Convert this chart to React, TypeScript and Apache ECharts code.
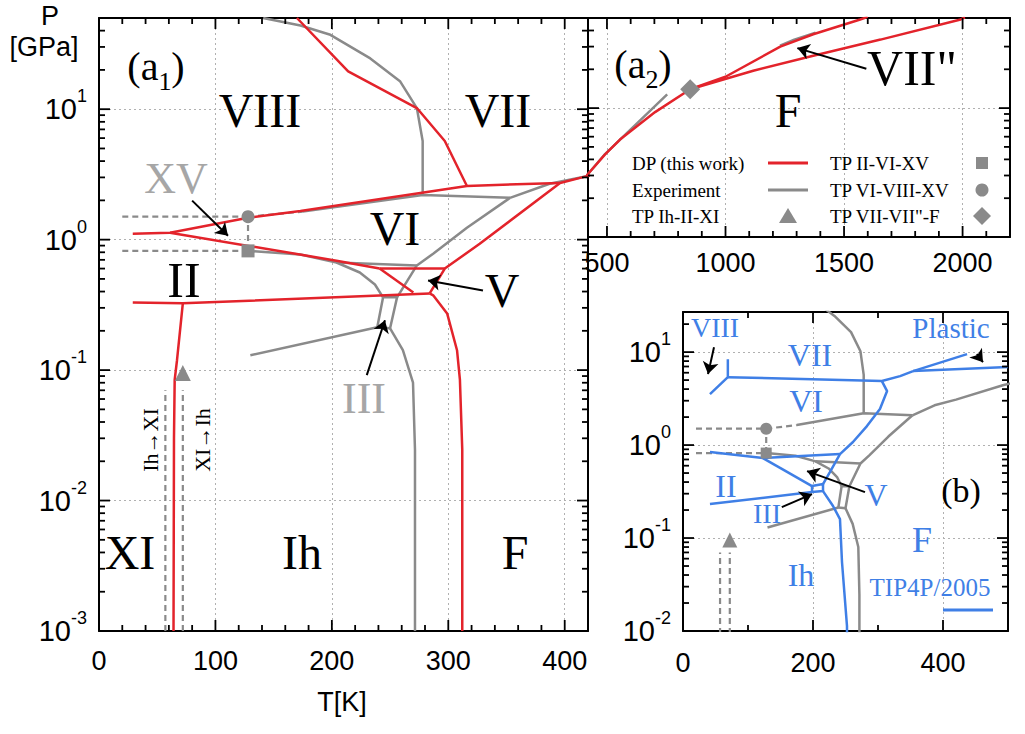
import React, { useEffect, useRef } from "react";
import * as echarts from "echarts";

// ---------------- axis ranges ----------------
const a1T = [0, 420];
const a1P = [0.001, 50];
const a2T = [420, 2200];
const a2P = [1, 50];
const bT = [0, 500];
const bP = [0.01, 27];

// ---------------- DP (this work) : red ----------------
const redVIIIvsVII = [[170, 50], [214, 19.5], [273, 10.2], [297, 5.7], [316, 2.58]];
const redVIupper = [[29, 1.11], [61, 1.13], [128, 1.47], [173, 1.66], [316, 2.58], [396, 2.72]];
const redIIvsVI = [[61, 1.13], [204, 0.69], [241, 0.6]];
const redVtop = [[241, 0.6], [297, 0.6]];
const redIIvsV = [[241, 0.6], [270, 0.394]];
const redIIvsIh = [[29, 0.33], [72, 0.325], [284, 0.387]];
const redIhvsXI = [[72, 0.325], [67, 0.119], [65, 0.084], [64.4, 0.03], [64, 0.001]];
const redIhvsF = [[284, 0.387], [287, 0.374], [299, 0.272], [307.5, 0.142], [310, 0.084], [312, 0.0245], [312, 0.001]];
const redMelt = [[284, 0.387], [297, 0.6], [327, 0.93], [396, 2.72], [420, 3.08], [492, 4.38], [555, 5.7], [703, 9.31], [851, 14]];
const redVIIppUpper = [[851, 14], [1000, 17.5], [1231, 30], [1370, 37.4], [1568, 48.7], [1600, 51]];
const redVIIppLower = [[851, 14], [1117, 19.5], [1370, 25.5], [1654, 34], [1992, 48.7], [2010, 50.5]];

// ---------------- Experiment : gray ----------------
const grayVIIIvsVII = [[141, 50], [173, 43.8], [198, 37.4], [233, 24.5], [258.5, 16.4], [273, 10.2], [278, 5.7], [278, 2.2]];
const grayVIupper = [[175, 1.64], [278, 2.2], [353, 2.09]];
const grayMeltVII = [[353, 2.09], [387, 2.68], [420, 3.08], [492, 4.4], [564, 5.9], [754, 12.8]];
const grayMeltVI = [[353, 2.09], [316, 1.235], [287, 0.78], [273, 0.634], [256, 0.361]];
const grayIIvsVI = [[128, 0.82], [173, 0.768], [204, 0.668], [273, 0.634]];
const grayIIvsIII = [[204, 0.668], [224, 0.56], [237, 0.453], [244, 0.361]];
const grayIIIbox = [[244, 0.361], [256, 0.361], [250, 0.209], [239, 0.213], [244, 0.361]];
const grayIhvsII = [[130, 0.13], [239, 0.213]];
const grayIhvsF = [[250, 0.209], [261, 0.142], [269.7, 0.08], [271.4, 0.0245], [271.4, 0.001]];
const grayVIIpp = [[1230, 30.5], [1290, 34], [1380, 38.5]];
const dashXVhigh = [[20, 1.5], [128, 1.5]];
const dashXVlow = [[20, 0.82], [128, 0.82]];
const dashXVvert = [[128, 0.82], [128, 1.5]];
const dashVIII = [[128, 1.5], [175, 1.64]];
const dashIhXI = [[57, 0.001], [57, 0.07]];
const dashXIIh = [[72, 0.001], [72, 0.07]];

// ---------------- TIP4P/2005 : blue ----------------
const blueVIII = [[41.5, 3.53], [69, 5.38], [69, 8.4]];
const blueVIvsVII = [[69, 5.38], [306, 4.88], [334, 5.52], [354, 6.25]];
const bluePlasticA = [[354, 6.25], [437, 9.5]];
const bluePlasticB = [[354, 6.25], [500, 6.9]];
const blueMelt = [[306, 4.88], [314, 3.81], [303, 2.44], [283, 1.6], [261.5, 1.08], [241.5, 0.8], [226, 0.513], [215.4, 0.381]];
const blueVbox = [[198.5, 0.362], [215.4, 0.381], [215.4, 0.32], [198.5, 0.312], [198.5, 0.362]];
const blueIIupper = [[41.5, 0.841], [123, 0.725], [241.5, 0.8]];
const blueIIvsVI = [[123, 0.725], [198.5, 0.362]];
const blueIIvsIh = [[41.5, 0.232], [198.5, 0.312]];
const blueIhvsF = [[215.4, 0.32], [230.8, 0.221], [241.5, 0.16], [244.6, 0.0552], [252.3, 0.0113], [252.5, 0.005]];

// ---------------- triple points ----------------
const tpIIVIXV = [[128, 0.82]];
const tpVIVIIIXV = [[128, 1.5]];
const tpIhIIXI = [[72, 0.095]];
const tpVIIVIIppF = [[851, 14]];

// ---------------- arrows ----------------
const arrowXV = [[80, 1.99], [110.8, 1.07]];
const arrowV = [[329.8, 0.408], [282.6, 0.486]];
const arrowIII = [[230, 0.0916], [245.6, 0.241]];
const arrowVIIpp = [[1594, 20.2], [1303, 29.2]];
const arrowBVIII = [[47.7, 11.3], [38.5, 5.8]];
const arrowBPlastic = [[452, 9.5], [461.5, 7.8]];
const arrowBV = [[280, 0.312], [190.8, 0.525]];
const arrowBIII = [[152, 0.215], [198.5, 0.297]];

// ---------------- tick steps ----------------
const a1Steps = [100, 20];
const a2Steps = [500, 100];
const bSteps = [200, 100];

const RED = "#e3232b";
const GRAY = "#8a8a8a";
const BLUE = "#3f7fe6";
const LIGHT = "#a6a6a6";
const SANS = "Liberation Sans, Arial, sans-serif";
const SERIF = "Liberation Serif, Times New Roman, serif";

const logFmt = (v: number) => {
  const l = Math.log10(v);
  const e = Math.round(l);
  return Math.abs(l - e) < 1e-6 ? `{b|10}{s|${e}}` : "";
};
const logRich = () => ({
  b: { fontSize: 29, fontFamily: SANS, color: "#000", lineHeight: 44, verticalAlign: "middle" },
  s: { fontSize: 18, fontFamily: SANS, color: "#000", lineHeight: 44, verticalAlign: "top" },
});

const axLine = () => ({ show: true, onZero: false, lineStyle: { color: "#000", width: 2 } });
const split = () => ({ show: true, lineStyle: { color: "#b0b0b0", type: [2, 3], width: 1 } });

function xAxis(gi: number, range: number[], step: number, useInterval: boolean, margin: number, top: boolean) {
  const ax: any = {
    type: "value",
    gridIndex: gi,
    position: top ? "top" : "bottom",
    min: range[0],
    max: range[1],
    axisLine: axLine(),
    axisTick: { show: false },
    splitLine: top ? { show: false } : split(),
    axisLabel: top
      ? { show: false }
      : {
          show: true,
          margin,
          fontSize: 27,
          fontFamily: SANS,
          color: "#000",
          formatter: (v: number) => (Math.abs(v % step) < 1e-9 ? String(v) : ""),
        },
  };
  if (useInterval) ax.interval = step;
  else ax.splitNumber = 4;
  return ax;
}

function yAxis(gi: number, range: number[], labels: boolean, right: boolean) {
  return {
    type: "log",
    logBase: 10,
    gridIndex: gi,
    position: right ? "right" : "left",
    min: range[0],
    max: range[1],
    axisLine: axLine(),
    axisTick: { show: false },
    splitLine: right ? { show: false } : split(),
    axisLabel: labels && !right ? { show: true, margin: 12, formatter: logFmt, rich: logRich() } : { show: false },
  };
}

// tick positions along the axes
function linTicks(range: number[], step: number) {
  const out: number[] = [];
  for (let v = Math.ceil(range[0] / step) * step; v <= range[1] + 1e-9; v += step) out.push(v);
  return out;
}
function logTicks(range: number[], major: boolean) {
  const out: number[] = [];
  for (let d = -4; d <= 2; d++) {
    const ms = major ? [1] : [2, 3, 4, 5, 6, 7, 8, 9];
    for (const m of ms) {
      const v = m * Math.pow(10, d);
      if (v >= range[0] * 0.9999 && v <= range[1] * 1.0001) out.push(v);
    }
  }
  return out;
}

// tick marks placed through the chart's own scales (convertToPixel)
function tickGraphics(chart: any, gi: number, tR: number[], pR: number[], steps: number[]) {
  const finder = { xAxisIndex: gi * 2, yAxisIndex: gi * 2 };
  const px = (t: number, p: number) => chart.convertToPixel(finder, [t, p]);
  const majX = linTicks(tR, steps[0]);
  const minX = linTicks(tR, steps[1]).filter((v) => majX.indexOf(v) < 0);
  const majY = logTicks(pR, true);
  const minY = logTicks(pR, false);
  const out: any[] = [];
  const seg = (x1: number, y1: number, x2: number, y2: number) =>
    out.push({ type: "line", z: 90, silent: true, shape: { x1, y1, x2, y2 }, style: { stroke: "#000", lineWidth: 1.8 } });
  const xs = (vals: number[], len: number) =>
    vals.forEach((t) => {
      const b = px(t, pR[0]);
      const tp = px(t, pR[1]);
      seg(b[0], b[1], b[0], b[1] - len);
      seg(tp[0], tp[1], tp[0], tp[1] + len);
    });
  const ys = (vals: number[], len: number) =>
    vals.forEach((p) => {
      const l = px(tR[0], p);
      const r = px(tR[1], p);
      seg(l[0], l[1], l[0] + len, l[1]);
      seg(r[0], r[1], r[0] - len, r[1]);
    });
  xs(majX, 11);
  xs(minX, 6);
  ys(majY, 11);
  ys(minY, 6);
  return out;
}

function line(data: number[][], color: string, gi: number, dashed = false, z = 3) {
  return {
    type: "line",
    xAxisIndex: gi * 2,
    yAxisIndex: gi * 2,
    data,
    symbol: "none",
    silent: true,
    clip: true,
    z,
    lineStyle: { color, width: dashed ? 2.2 : 2.5, type: dashed ? [6, 4] : "solid" },
  };
}

function marker(data: number[][], symbol: string, size: number, gi: number) {
  return {
    type: "scatter",
    xAxisIndex: gi * 2,
    yAxisIndex: gi * 2,
    data,
    symbol,
    symbolSize: size,
    silent: true,
    z: 6,
    itemStyle: { color: GRAY, opacity: 1 },
  };
}

function arrows(list: number[][][], gi: number) {
  return {
    type: "lines",
    coordinateSystem: "cartesian2d",
    xAxisIndex: gi * 2,
    yAxisIndex: gi * 2,
    symbol: ["none", "arrow"],
    symbolSize: 12,
    silent: true,
    z: 8,
    lineStyle: { color: "#000", width: 2, opacity: 1 },
    data: list.map((c) => ({ coords: c })),
  };
}

function txt(text: string, x: number, y: number, size: number, color = "#000", family = SERIF, extra: any = {}) {
  return {
    type: "text",
    x,
    y,
    z: 100,
    silent: true,
    ...extra,
    style: { text, fontSize: size, fontFamily: family, fill: color, align: "center", verticalAlign: "middle", ...(extra.style || {}) },
  };
}

export default function App() {
  const ref = useRef<HTMLDivElement>(null);
  useEffect(() => {
    if (!ref.current) return;
    const chart = echarts.init(ref.current, null, { renderer: "svg" });

    const grayLines = (gi: number) => [
      line(grayVIIIvsVII, GRAY, gi, false, 2),
      line(grayVIupper, GRAY, gi, false, 2),
      line(grayMeltVII, GRAY, gi, false, 2),
      line(grayMeltVI, GRAY, gi, false, 2),
      line(grayIIvsVI, GRAY, gi, false, 2),
      line(grayIIvsIII, GRAY, gi, false, 2),
      line(grayIIIbox, GRAY, gi, false, 2),
      line(grayIhvsII, GRAY, gi, false, 2),
      line(grayIhvsF, GRAY, gi, false, 2),
      line(dashXVhigh, GRAY, gi, true, 2),
      line(dashXVlow, GRAY, gi, true, 2),
      line(dashXVvert, GRAY, gi, true, 2),
      line(dashVIII, GRAY, gi, true, 2),
      line(dashIhXI, GRAY, gi, true, 2),
      line(dashXIIh, GRAY, gi, true, 2),
    ];

    const series: any[] = [
      // panel a1
      ...grayLines(0),
      line(redVIIIvsVII, RED, 0),
      line(redVIupper, RED, 0),
      line(redIIvsVI, RED, 0),
      line(redVtop, RED, 0),
      line(redIIvsV, RED, 0),
      line(redIIvsIh, RED, 0),
      line(redIhvsXI, RED, 0),
      line(redIhvsF, RED, 0),
      line(redMelt, RED, 0),
      marker(tpIIVIXV, "rect", 13, 0),
      marker(tpVIVIIIXV, "circle", 13, 0),
      marker(tpIhIIXI, "triangle", 16, 0),
      arrows([arrowXV, arrowV, arrowIII], 0),
      // panel a2
      line(grayMeltVII, GRAY, 1, false, 2),
      line(grayVIIpp, GRAY, 1, false, 2),
      line(redMelt, RED, 1),
      line(redVIIppUpper, RED, 1),
      line(redVIIppLower, RED, 1),
      marker(tpVIIVIIppF, "diamond", 20, 1),
      arrows([arrowVIIpp], 1),
      // panel b
      ...grayLines(2),
      line(blueVIII, BLUE, 2),
      line(blueVIvsVII, BLUE, 2),
      line(bluePlasticA, BLUE, 2),
      line(bluePlasticB, BLUE, 2),
      line(blueMelt, BLUE, 2),
      line(blueVbox, BLUE, 2),
      line(blueIIupper, BLUE, 2),
      line(blueIIvsVI, BLUE, 2),
      line(blueIIvsIh, BLUE, 2),
      line(blueIhvsF, BLUE, 2),
      marker(tpIIVIXV, "rect", 11, 2),
      marker(tpVIVIIIXV, "circle", 12, 2),
      marker(tpIhIIXI, "triangle", 15, 2),
      arrows([arrowBVIII, arrowBPlastic, arrowBV, arrowBIII], 2),
    ];

    const subRich = { s: { fontSize: 26, fontFamily: SERIF, fill: "#000", lineHeight: 56, verticalAlign: "bottom" } };

    const labels: any[] = [
      // axis titles
      txt("P", 50, 16, 27, "#000", SANS),
      txt("[GPa]", 44, 47, 27, "#000", SANS),
      txt("T[K]", 342, 702, 27, "#000", SANS),
      // a1 labels
      { type: "text", x: 156, y: 66, z: 100, style: { text: "(a{s|1})", rich: subRich, fontSize: 40, fontFamily: SERIF, fill: "#000", align: "center", verticalAlign: "middle" } },
      txt("VIII", 260, 110, 48),
      txt("VII", 498, 110, 48),
      txt("XV", 176, 178, 44, LIGHT),
      txt("VI", 395, 228, 48),
      txt("II", 184, 280, 50),
      txt("V", 502, 290, 48),
      txt("III", 364, 398, 44, LIGHT),
      txt("XI", 130, 552, 48),
      txt("Ih", 302, 552, 48),
      txt("F", 515, 552, 48),
      txt("Ih\u2192XI", 150, 440, 22, "#000", SERIF, { rotation: Math.PI / 2 }),
      txt("XI\u2192Ih", 202, 440, 22, "#000", SERIF, { rotation: Math.PI / 2 }),
      // a2 labels
      { type: "text", x: 643, y: 64, z: 100, style: { text: "(a{s|2})", rich: subRich, fontSize: 40, fontFamily: SERIF, fill: "#000", align: "center", verticalAlign: "middle" } },
      txt("F", 788, 110, 48),
      txt('VII"', 912, 68, 50),
      // legend
      txt("DP (this work)", 632, 163, 19, "#000", SERIF, { style: { align: "left" } }),
      txt("Experiment", 632, 190, 19, "#000", SERIF, { style: { align: "left" } }),
      txt("TP Ih-II-XI", 632, 216, 19, "#000", SERIF, { style: { align: "left" } }),
      txt("TP II-VI-XV", 830, 163, 19, "#000", SERIF, { style: { align: "left" } }),
      txt("TP VI-VIII-XV", 830, 190, 19, "#000", SERIF, { style: { align: "left" } }),
      txt('TP VII-VII"-F', 830, 216, 19, "#000", SERIF, { style: { align: "left" } }),
      { type: "line", z: 100, shape: { x1: 768, y1: 163, x2: 808, y2: 163 }, style: { stroke: RED, lineWidth: 3 } },
      { type: "line", z: 100, shape: { x1: 768, y1: 190, x2: 808, y2: 190 }, style: { stroke: GRAY, lineWidth: 3 } },
      { type: "polygon", z: 100, shape: { points: [[788, 208], [797, 223], [779, 223]] }, style: { fill: GRAY } },
      { type: "rect", z: 100, shape: { x: 976, y: 157, width: 12, height: 12 }, style: { fill: GRAY } },
      { type: "circle", z: 100, shape: { cx: 982, cy: 190, r: 6.5 }, style: { fill: GRAY } },
      { type: "polygon", z: 100, shape: { points: [[982, 207], [991, 216], [982, 225], [973, 216]] }, style: { fill: GRAY } },
      // b labels
      txt("VIII", 715, 327, 28, BLUE),
      txt("VII", 810, 355, 32, BLUE),
      txt("VI", 806, 401, 32, BLUE),
      txt("II", 726, 486, 32, BLUE),
      txt("III", 767, 513, 28, BLUE),
      txt("V", 876, 495, 32, BLUE),
      txt("Ih", 801, 575, 32, BLUE),
      txt("F", 922, 540, 36, BLUE),
      txt("Plastic", 951, 328, 29, BLUE),
      txt("(b)", 961, 490, 34, "#000"),
      txt("TIP4P/2005", 930, 587, 25, BLUE),
      { type: "line", z: 100, shape: { x1: 943, y1: 610, x2: 993, y2: 610 }, style: { stroke: BLUE, lineWidth: 3 } },
    ];

    chart.setOption({
      animation: false,
      grid: [
        { left: 99, top: 18, width: 489, height: 613 },
        { left: 588, top: 18, width: 422, height: 219 },
        { left: 683, top: 312, width: 325, height: 319 },
      ],
      xAxis: [
        xAxis(0, a1T, a1Steps[0], true, 16, false),
        xAxis(0, a1T, a1Steps[0], true, 16, true),
        xAxis(1, a2T, a2Steps[0], false, 12, false),
        xAxis(1, a2T, a2Steps[0], false, 12, true),
        xAxis(2, bT, bSteps[0], true, 18, false),
        xAxis(2, bT, bSteps[0], true, 18, true),
      ],
      yAxis: [
        yAxis(0, a1P, true, false),
        yAxis(0, a1P, true, true),
        yAxis(1, a2P, false, false),
        yAxis(1, a2P, false, true),
        yAxis(2, bP, true, false),
        yAxis(2, bP, true, true),
      ],
      series,
    });

    let ticks: any[] = [];
    try {
      ticks = [
        ...tickGraphics(chart, 0, a1T, a1P, a1Steps),
        ...tickGraphics(chart, 1, a2T, a2P, a2Steps),
        ...tickGraphics(chart, 2, bT, bP, bSteps),
      ].filter((g) => isFinite(g.shape.x1) && isFinite(g.shape.y1));
    } catch (e) {
      ticks = [];
    }
    chart.setOption({ graphic: [...labels, ...ticks] });
    return () => chart.dispose();
  }, []);
  return <div ref={ref} style={{ position: "absolute", left: 0, top: 0, width: 1025, height: 734 }} />;
}
